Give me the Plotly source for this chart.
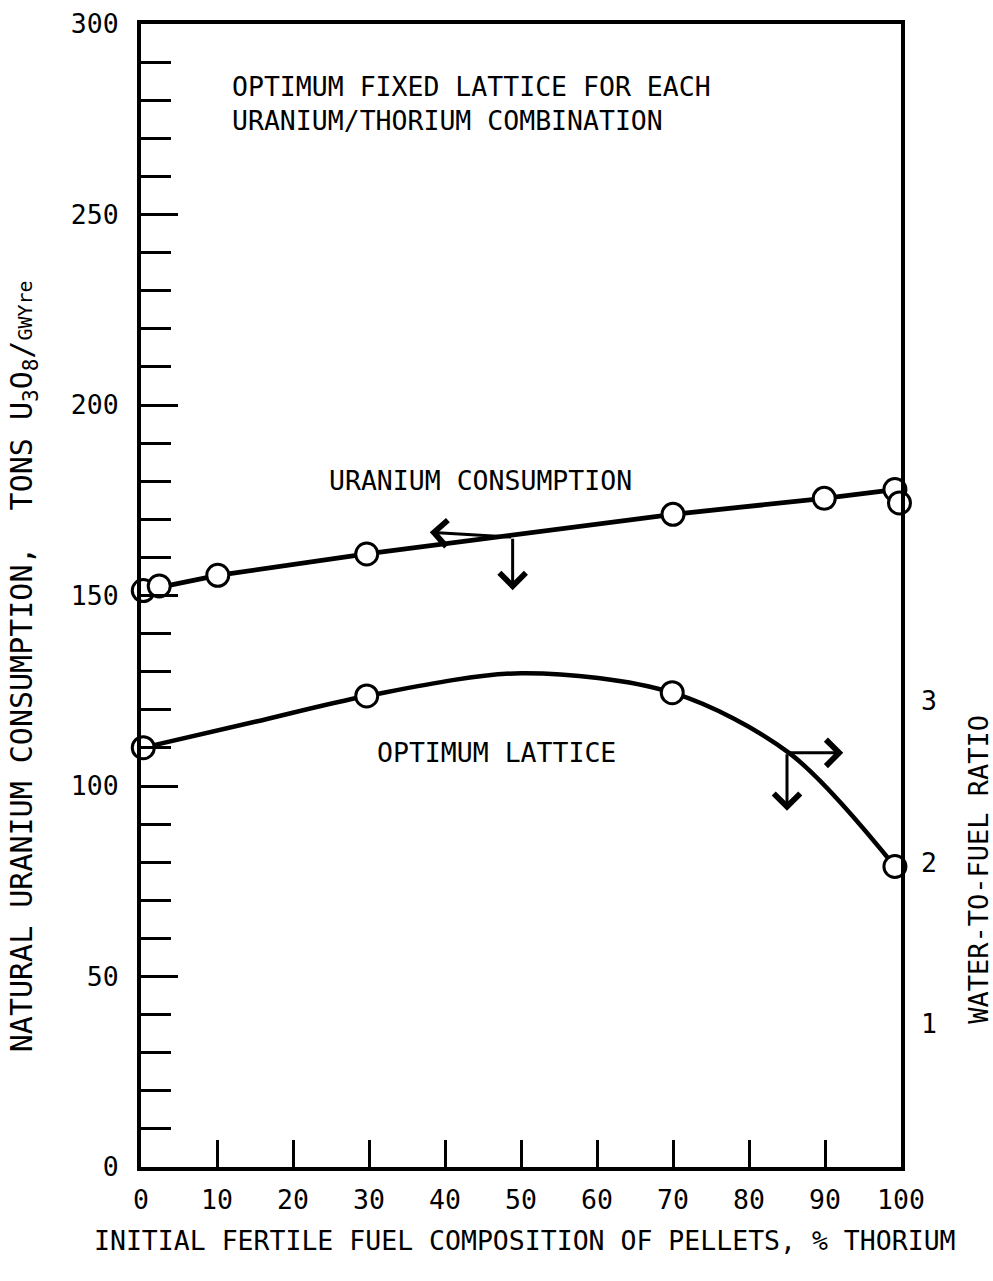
import plotly.graph_objects as go

# ---- data ----
# Uranium consumption (left axis, tons U3O8/GWYre)
u_x = [0.3, 2.4, 10.1, 29.7, 70.0, 89.9, 99.2, 99.8]
u_y = [151.3, 152.5, 155.3, 160.9, 171.3, 175.5, 177.8, 174.3]
# line through the uranium points
u_line_x = [0.3, 10.1, 29.7, 70.0, 89.9, 99.2]
u_line_y = [151.3, 155.3, 160.9, 171.3, 175.5, 177.8]

# Optimum lattice (right axis, water-to-fuel ratio)
w_x = [0.3, 29.7, 69.9, 99.2]
w_y = [2.71, 3.03, 3.05, 1.975]
# smooth curve points
w_curve_x = [0.3, 15.0, 29.7, 50.0, 69.9, 85.4, 99.2]
w_curve_y = [2.71, 2.87, 3.03, 3.17, 3.05, 2.673, 1.975]

x_ticks = [0, 10, 20, 30, 40, 50, 60, 70, 80, 90, 100]
y_ticks = [0, 50, 100, 150, 200, 250, 300]
y2_ticks = [1, 2, 3]

FONT = "DejaVu Sans Mono"
FS = 26.5
FS_T = 30
BLACK = "#000000"

fig = go.Figure()

fig.add_trace(go.Scatter(x=u_line_x, y=u_line_y, mode="lines",
                         line=dict(color=BLACK, width=4.8), showlegend=False))
fig.add_trace(go.Scatter(x=u_x, y=u_y, mode="markers",
                         marker=dict(symbol="circle", size=22, color="white",
                                     line=dict(color=BLACK, width=3)),
                         showlegend=False, cliponaxis=False))
fig.add_trace(go.Scatter(x=w_curve_x, y=w_curve_y, mode="lines", yaxis="y2",
                         line=dict(color=BLACK, width=4.5, shape="spline", smoothing=0.9),
                         showlegend=False))
fig.add_trace(go.Scatter(x=w_x, y=w_y, mode="markers", yaxis="y2",
                         marker=dict(symbol="circle", size=22, color="white",
                                     line=dict(color=BLACK, width=3)),
                         showlegend=False, cliponaxis=False))

fig.update_layout(
    width=993, height=1281,
    margin=dict(l=141, r=92, t=24, b=114, pad=0, autoexpand=False),
    paper_bgcolor="white", plot_bgcolor="white",
    font=dict(family=FONT, size=FS, color=BLACK),
    xaxis=dict(range=[0, 100], tickvals=x_ticks, ticks="inside", ticklen=27,
               tickwidth=3, tickcolor=BLACK, showline=True, linewidth=4,
               linecolor=BLACK, mirror=True, showgrid=False, zeroline=False,
               automargin=False,
               tickfont=dict(family=FONT, size=FS), ticklabelstandoff=6),
    yaxis=dict(range=[0, 300], tickvals=y_ticks, ticks="inside", ticklen=37,
               tickwidth=3, tickcolor=BLACK, showline=True, linewidth=4,
               linecolor=BLACK, mirror=True, showgrid=False, zeroline=False,
               automargin=False,
               minor=dict(dtick=10, ticks="inside", ticklen=30, tickwidth=3,
                          tickcolor=BLACK, showgrid=False),
               tickfont=dict(family=FONT, size=FS), ticklabelstandoff=13),
    yaxis2=dict(range=[0.117, 7.185], overlaying="y", side="right",
                tickvals=y2_ticks, ticks="", showline=False, showgrid=False,
                zeroline=False, automargin=False,
                tickfont=dict(family=FONT, size=FS),
                ticklabelstandoff=19),
)

ann = []
ann.append(dict(text="OPTIMUM FIXED LATTICE FOR EACH<br>URANIUM/THORIUM COMBINATION",
                xref="paper", yref="paper", x=0.117, y=0.9606, xanchor="left",
                yanchor="top", align="left", showarrow=False,
                font=dict(family=FONT, size=FS)))
ann.append(dict(text="URANIUM CONSUMPTION", xref="paper", yref="paper",
                x=0.447, y=0.601, xanchor="center", yanchor="middle",
                showarrow=False, font=dict(family=FONT, size=FS)))
ann.append(dict(text="OPTIMUM LATTICE", xref="paper", yref="paper",
                x=0.468, y=0.363, xanchor="center", yanchor="middle",
                showarrow=False, font=dict(family=FONT, size=FS)))
ann.append(dict(text="INITIAL FERTILE FUEL COMPOSITION OF PELLETS, % THORIUM",
                xref="paper", yref="paper", x=0.505, y=-0.0639,
                xanchor="center", yanchor="middle", showarrow=False,
                font=dict(family=FONT, size=FS)))
ann.append(dict(text="NATURAL URANIUM CONSUMPTION,\u00a0 TONS U<sub>3</sub>O<sub>8</sub>/<span style='font-size:20px'>GWYre</span>",
                xref="paper", yref="paper", x=-0.155, y=0.4383, textangle=-90,
                xanchor="center", yanchor="middle",
                showarrow=False, font=dict(family=FONT, size=FS_T)))
ann.append(dict(text="WATER-TO-FUEL RATIO", xref="paper", yref="paper",
                x=1.101, y=0.2607, textangle=-90, xanchor="center", yanchor="middle",
                showarrow=False, font=dict(family=FONT, size=27)))

# direction arrows
def arrow(hx, hy, tx, ty):
    return dict(x=hx, y=hy, ax=tx, ay=ty, xref="x", yref="y", axref="x", ayref="y",
                showarrow=True, arrowhead=4, arrowsize=1.7, arrowwidth=3,
                arrowcolor=BLACK, text="")

ann.append(arrow(38.0, 166.6, 48.9, 165.3))
ann.append(arrow(48.9, 151.4, 48.9, 165.3))
ann.append(arrow(92.4, 108.7, 85.0, 108.7))
ann.append(arrow(85.0, 93.5, 85.0, 108.7))

fig.update_layout(annotations=ann)

fig.write_html("out.html")
